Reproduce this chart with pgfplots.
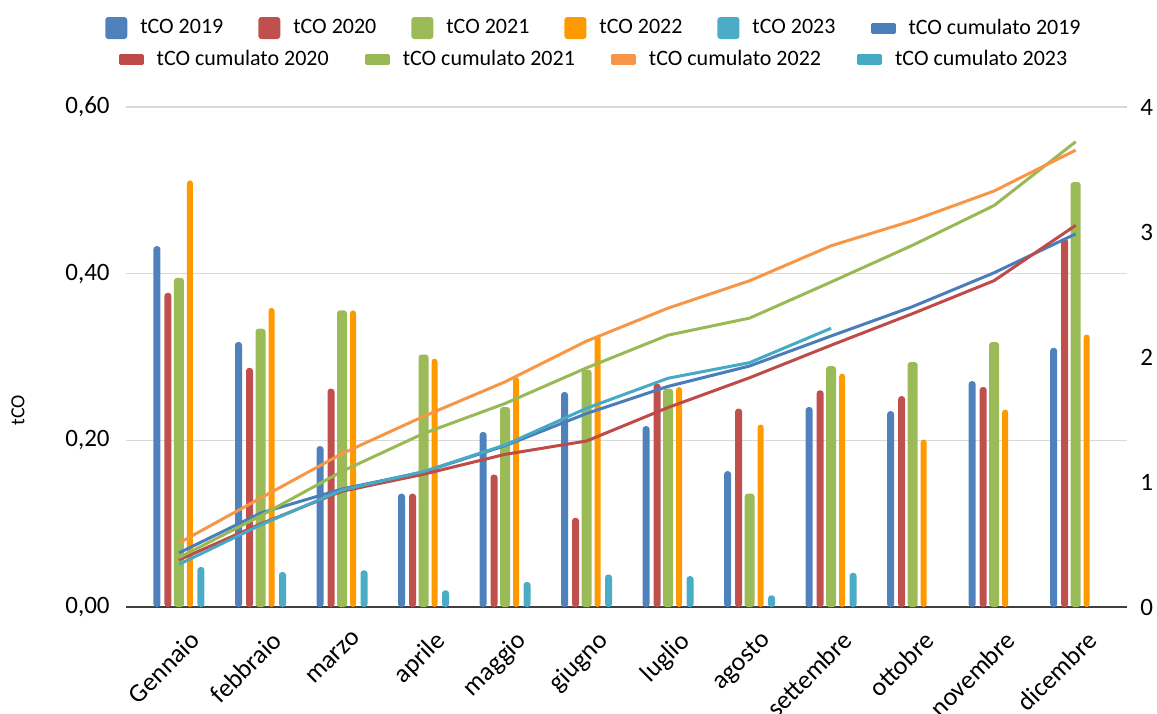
\documentclass[border=0pt]{standalone}
\usepackage{pgfplots}
\pgfplotsset{compat=1.18}
\usepackage{fontspec}
\setmainfont{Carlito}

\definecolor{b19}{HTML}{4F81BD}
\definecolor{b20}{HTML}{C0504D}
\definecolor{b21}{HTML}{9BBB59}
\definecolor{b22}{HTML}{FF9900}
\definecolor{b23}{HTML}{4BACC6}
\definecolor{l19}{HTML}{4A7EBB}
\definecolor{l20}{HTML}{BE4B48}
\definecolor{l21}{HTML}{98B954}
\definecolor{l22}{HTML}{F79646}
\definecolor{l23}{HTML}{46AAC5}
\definecolor{gridgray}{HTML}{D9D9D9}
\definecolor{axisgray}{HTML}{404040}

\pgfplotsset{
  barleg/.style={legend image code/.code={\fill[##1] (0pt,-5.5pt) rectangle (11pt,5.5pt); \path (14pt,0pt);}},
  lineleg/.style={legend image code/.code={\fill[##1] (0pt,-2pt) rectangle (11pt,2pt); \path (14pt,0pt);}},
  mbar/.style={ybar, bar width=#1, draw=none, rounded corners=1.5pt, barleg},
  cum/.style={line width=1.5pt, line join=round, mark=none, lineleg},
}

\begin{document}
\begin{tikzpicture}
\useasboundingbox (-63pt,-53pt) rectangle (515.5pt,303.5pt);

\begin{axis}[
  at={(0pt,0pt)}, anchor=south west,
  scale only axis, width=500.5pt, height=250pt,
  xmin=-0.65, xmax=11.63, ymin=0, ymax=0.6,
  xtick={0,...,11},
  xticklabels={Gennaio,febbraio,marzo,aprile,maggio,giugno,luglio,agosto,settembre,ottobre,novembre,dicembre},
  ytick={0,0.2,0.4,0.6},
  yticklabels={{0,00},{0,20},{0,40},{0,60}},
  major tick length=0pt,
  axis x line*=bottom, axis y line*=left,
  x axis line style={line width=1pt, draw=axisgray, -},
  y axis line style={draw=none},
  ymajorgrids, grid style={line width=0.75pt, draw=gridgray},
  yticklabel style={font=\fontsize{12.5}{15}\selectfont, inner sep=0pt, xshift=-8pt, anchor=east},
  xticklabel style={font=\fontsize{13}{15}\selectfont, inner sep=0pt, xshift=5pt, yshift=-11pt, rotate=45, anchor=north east},
  legend columns=6,
  legend style={draw=none, fill=none, at={(0.47,1.158)}, anchor=center,
    font=\fontsize{11}{13}\selectfont, inner sep=0pt,
    nodes={inner xsep=3.5pt, inner ysep=1pt},
    /tikz/every even column/.append style={column sep=14pt}},
]
\addplot[mbar=3.5pt, bar shift=-11pt, fill=b19] coordinates {
  (0,0.433) (1,0.318) (2,0.193) (3,0.136) (4,0.210) (5,0.258)
  (6,0.217) (7,0.163) (8,0.240) (9,0.235) (10,0.271) (11,0.311)};
\addplot[mbar=3.5pt, bar shift=-5.5pt, fill=b20] coordinates {
  (0,0.377) (1,0.287) (2,0.262) (3,0.136) (4,0.159) (5,0.107)
  (6,0.268) (7,0.238) (8,0.260) (9,0.253) (10,0.264) (11,0.442)};
\addplot[mbar=5pt, bar shift=0pt, fill=b21] coordinates {
  (0,0.395) (1,0.334) (2,0.356) (3,0.303) (4,0.240) (5,0.285)
  (6,0.262) (7,0.136) (8,0.289) (9,0.294) (10,0.318) (11,0.510)};
\addplot[mbar=3pt, bar shift=5.5pt, fill=b22] coordinates {
  (0,0.512) (1,0.359) (2,0.356) (3,0.298) (4,0.276) (5,0.326)
  (6,0.264) (7,0.219) (8,0.280) (9,0.201) (10,0.237) (11,0.327)};
\addplot[mbar=3.5pt, bar shift=11pt, fill=b23] coordinates {
  (0,0.048) (1,0.042) (2,0.044) (3,0.020) (4,0.030) (5,0.039)
  (6,0.037) (7,0.014) (8,0.041)};
\addlegendimage{cum, color=l19}
\legend{tCO 2019,tCO 2020,tCO 2021,tCO 2022,tCO 2023,tCO cumulato 2019}
\end{axis}

\begin{axis}[
  at={(0pt,0pt)}, anchor=south west,
  scale only axis, width=500.5pt, height=250pt,
  xmin=-0.65, xmax=11.63, ymin=0, ymax=4,
  axis x line=none, axis y line*=right,
  y axis line style={draw=none},
  ytick={0,1,2,3,4}, yticklabels={0,1,2,3,4},
  major tick length=0pt,
  yticklabel style={font=\fontsize{12.5}{15}\selectfont, inner sep=0pt, xshift=6.5pt, anchor=west},
  legend columns=4,
  legend style={draw=none, fill=none, at={(0.47,1.096)}, anchor=center,
    font=\fontsize{11}{13}\selectfont, inner sep=0pt,
    nodes={inner xsep=3.5pt, inner ysep=1pt},
    /tikz/every even column/.append style={column sep=14.5pt}},
]
\addplot[cum, color=l19, forget plot] coordinates {
  (0,0.433) (1,0.751) (2,0.944) (3,1.080) (4,1.290) (5,1.548)
  (6,1.765) (7,1.928) (8,2.168) (9,2.403) (10,2.674) (11,2.985)};
\addplot[cum, color=l20] coordinates {
  (0,0.377) (1,0.664) (2,0.926) (3,1.062) (4,1.221) (5,1.328)
  (6,1.596) (7,1.834) (8,2.094) (9,2.347) (10,2.611) (11,3.053)};
\addplot[cum, color=l21] coordinates {
  (0,0.395) (1,0.729) (2,1.085) (3,1.388) (4,1.628) (5,1.913)
  (6,2.175) (7,2.311) (8,2.600) (9,2.894) (10,3.212) (11,3.722)};
\addplot[cum, color=l22] coordinates {
  (0,0.512) (1,0.871) (2,1.227) (3,1.525) (4,1.801) (5,2.127)
  (6,2.391) (7,2.610) (8,2.890) (9,3.091) (10,3.328) (11,3.655)};
\addplot[cum, color=l23] coordinates {
  (0,0.341) (1,0.656) (2,0.936) (3,1.083) (4,1.296) (5,1.590)
  (6,1.830) (7,1.955) (8,2.230)};
\legend{tCO cumulato 2020,tCO cumulato 2021,tCO cumulato 2022,tCO cumulato 2023}
\end{axis}

\node[rotate=90, font=\fontsize{10}{12}\selectfont] at (-54pt,98.5pt) {tCO};
\end{tikzpicture}
\end{document}
